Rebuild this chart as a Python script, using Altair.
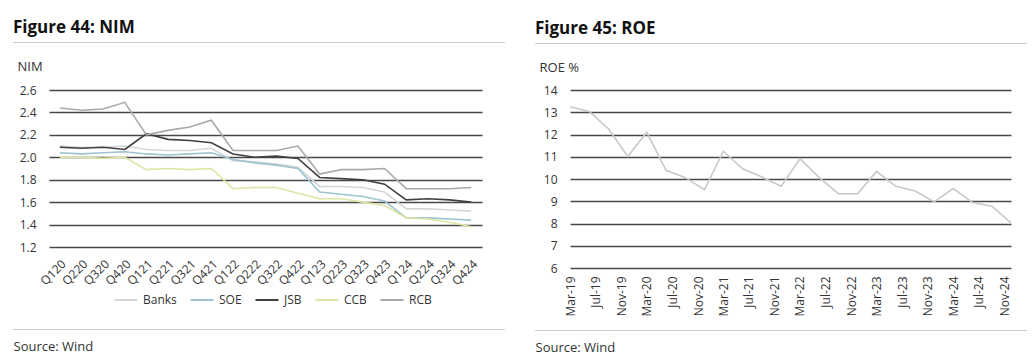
import altair as alt
import pandas as pd

FONT = "Open Sans"

# ---------------- Figure 44: NIM ----------------
quarters = ["Q120", "Q220", "Q320", "Q420", "Q121", "Q221", "Q321", "Q421",
            "Q122", "Q222", "Q322", "Q422", "Q123", "Q223", "Q323", "Q423",
            "Q124", "Q224", "Q324", "Q424"]
banks = [2.10, 2.09, 2.09, 2.10, 2.07, 2.06, 2.06, 2.08, 1.97, 1.96,
         1.94, 1.91, 1.74, 1.74, 1.73, 1.69, 1.54, 1.54, 1.53, 1.52]
soe = [2.04, 2.03, 2.04, 2.05, 2.03, 2.02, 2.03, 2.04, 1.98, 1.95,
       1.93, 1.90, 1.69, 1.67, 1.65, 1.61, 1.46, 1.46, 1.45, 1.44]
jsb = [2.09, 2.08, 2.09, 2.07, 2.21, 2.16, 2.15, 2.13, 2.03, 2.00,
       2.01, 1.99, 1.82, 1.81, 1.80, 1.76, 1.62, 1.63, 1.62, 1.60]
ccb = [2.00, 2.00, 1.99, 2.00, 1.89, 1.90, 1.89, 1.90, 1.72, 1.73,
       1.73, 1.68, 1.63, 1.63, 1.60, 1.57, 1.46, 1.45, 1.42, 1.38]
rcb = [2.44, 2.42, 2.43, 2.49, 2.20, 2.24, 2.27, 2.33, 2.06, 2.06,
       2.06, 2.10, 1.85, 1.89, 1.89, 1.90, 1.72, 1.72, 1.72, 1.73]
series_names = ["Banks", "SOE", "JSB", "CCB", "RCB"]
series_colors = ["#d3d7da", "#9dc4d0", "#404040", "#dde5a4", "#a9a9a9"]
nim_ticks = [1.2, 1.4, 1.6, 1.8, 2.0, 2.2, 2.4, 2.6]

# ---------------- Figure 45: ROE ----------------
roe_dates = ["2019-03-01", "2019-06-01", "2019-09-01", "2019-12-01",
             "2020-03-01", "2020-06-01", "2020-09-01", "2020-12-01",
             "2021-03-01", "2021-06-01", "2021-09-01", "2021-12-01",
             "2022-03-01", "2022-06-01", "2022-09-01", "2022-12-01",
             "2023-03-01", "2023-06-01", "2023-09-01", "2023-12-01",
             "2024-03-01", "2024-06-01", "2024-09-01", "2024-12-01"]
roe_values = [13.25, 13.04, 12.25, 11.01, 12.10, 10.39, 10.06, 9.52,
              11.25, 10.46, 10.09, 9.67, 10.91, 10.06, 9.34, 9.34,
              10.34, 9.67, 9.46, 8.97, 9.57, 8.94, 8.78, 8.03]
roe_tick_months = [(2019, 3), (2019, 7), (2019, 11), (2020, 3), (2020, 7), (2020, 11),
                   (2021, 3), (2021, 7), (2021, 11), (2022, 3), (2022, 7), (2022, 11),
                   (2023, 3), (2023, 7), (2023, 11), (2024, 3), (2024, 7), (2024, 11)]
roe_ticks = [6, 7, 8, 9, 10, 11, 12, 13, 14]

titles = ["Figure 44: NIM", "Figure 45: ROE"]
axis_titles = ["NIM", "ROE %"]
source_text = "Source: Wind"

GRID = "#474747"
LABEL = "#333333"

rows = []
for name, vals in zip(series_names, [banks, soe, jsb, ccb, rcb]):
    for q, v in zip(quarters, vals):
        rows.append({"quarter": q, "series": name, "nim": v})
nim_df = pd.DataFrame(rows)
roe_df = pd.DataFrame({"date": roe_dates, "roe": roe_values})


def one(text):
    return alt.Chart(pd.DataFrame({"t": [text]}))


def decorations(title, ytitle, dx, dy, rule_w):
    """dx, dy: offset of plot origin from panel text column; rule_w: rule length."""
    t = one(title).mark_text(align="left", baseline="alphabetic", font=FONT,
                             fontSize=17, fontWeight="bold", color="#111111").encode(
        text="t:N", x=alt.value(-dx), y=alt.value(33 - dy))
    r1 = one("r").mark_rule(color="#cccccc", strokeWidth=1).encode(
        x=alt.value(-dx), x2=alt.value(-dx + rule_w), y=alt.value(42.5 - dy))
    yl = one(ytitle).mark_text(align="left", baseline="alphabetic", font=FONT,
                               fontSize=13, color=LABEL).encode(
        text="t:N", x=alt.value(-dx + 4.5), y=alt.value(70.5 - dy))
    r2 = one("r").mark_rule(color="#cccccc", strokeWidth=1).encode(
        x=alt.value(-dx), x2=alt.value(-dx + rule_w), y=alt.value(329.5 - dy))
    src = one(source_text).mark_text(align="left", baseline="alphabetic", font=FONT,
                                     fontSize=13, color=LABEL).encode(
        text="t:N", x=alt.value(-dx + 0.5), y=alt.value(350.5 - dy))
    return [t, r1, yl, r2, src]


# Left panel: plot origin at (48, 90)
nim_lines = alt.Chart(nim_df).mark_line(strokeWidth=1.6).encode(
    x=alt.X("quarter:N", sort=quarters,
            scale=alt.Scale(type="point", padding=0.5, domain=quarters),
            axis=alt.Axis(title=None, labelAngle=-45, labelFont=FONT, labelFontSize=12,
                          labelColor=LABEL, ticks=False, domain=False, grid=False,
                          labelPadding=11)),
    y=alt.Y("nim:Q", scale=alt.Scale(domain=[1.2, 2.6], nice=False, zero=False),
            axis=alt.Axis(title=None, values=nim_ticks, format=".1f", labelFont=FONT,
                          labelFontSize=12, labelColor=LABEL, ticks=False, domain=False,
                          labelPadding=13, grid=True, gridColor=GRID, gridWidth=1.3)),
    color=alt.Color("series:N",
                    scale=alt.Scale(domain=series_names, range=series_colors),
                    legend=alt.Legend(orient="none", legendX=64, legendY=197,
                                      direction="horizontal", title=None,
                                      symbolType="stroke", symbolSize=530,
                                      symbolStrokeWidth=2, labelFont=FONT,
                                      labelFontSize=12, labelColor=LABEL,
                                      labelOffset=4, columnPadding=9)),
    order=alt.Order("series:N"),
)
left = alt.layer(nim_lines, *decorations(titles[0], axis_titles[0], 36, 90, 492)).properties(
    width=433, height=157)

# Right panel: plot origin at (567, 89)
tick_vals = [alt.DateTime(year=y, month=m, date=1, utc=True) for y, m in roe_tick_months]
roe_line = alt.Chart(roe_df).mark_line(strokeWidth=1.6, color="#c8c8c8").encode(
    x=alt.X("date:T",
            scale=alt.Scale(type="utc",
                            domain=[alt.DateTime(year=2019, month=3, date=1, utc=True),
                                    alt.DateTime(year=2024, month=12, date=1, utc=True)]),
            axis=alt.Axis(title=None, values=tick_vals, labelAngle=-90,
                          labelExpr="utcFormat(datum.value, '%b-%y')",
                          labelFont=FONT, labelFontSize=12, labelColor=LABEL,
                          ticks=False, domain=False, grid=False, labelPadding=8)),
    y=alt.Y("roe:Q", scale=alt.Scale(domain=[6, 14], nice=False, zero=False),
            axis=alt.Axis(title=None, values=roe_ticks, format="d", labelFont=FONT,
                          labelFontSize=12, labelColor=LABEL, ticks=False, domain=False,
                          labelPadding=13, grid=True, gridColor=GRID, gridWidth=1.3)),
)
right = alt.layer(roe_line, *decorations(titles[1], axis_titles[1], 35, 89, 492)).properties(
    width=441, height=178)

chart = alt.hconcat(left, right, spacing=28).properties(
    padding={"left": 4, "top": 11, "right": 0, "bottom": 0}
).configure_view(stroke=None)

chart.save("out.html", embed_options={"renderer": "svg", "actions": False})
